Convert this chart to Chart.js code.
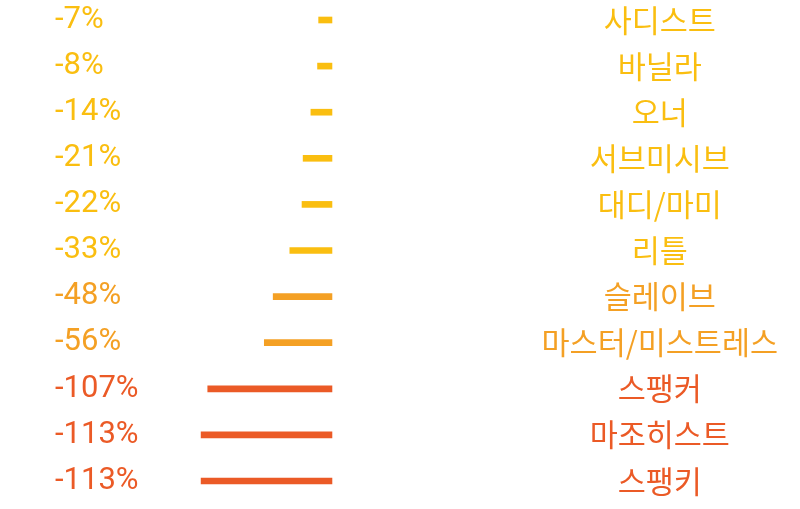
<!DOCTYPE html>
<html>
<head>
<meta charset="utf-8">
<script src="https://cdn.jsdelivr.net/npm/chart.js@4/dist/chart.umd.min.js"></script>
<style>
  html, body { margin: 0; padding: 0; background: #ffffff; }
  #chart { display: block; }
</style>
</head>
<body>
<canvas id="chart" width="800" height="509"></canvas>
<script>
/* DATA */
const categories = ['사디스트', '바닐라', '오너', '서브미시브', '대디/마미', '리틀', '슬레이브', '마스터/미스트레스', '스팽커', '마조히스트', '스팽키'];
const values = [-7, -8, -14, -21, -22, -33, -48, -56, -107, -113, -113];
const valueLabels = values.map((v) => v + '%');

/* COLORS */
const yellow = '#fabe10';
const orange = '#f4a024';
const red = '#eb5a26';
const rowColors = [yellow, yellow, yellow, yellow, yellow, yellow, orange, orange, red, red, red];

/* right axis as wide as its widest label, so centred labels end at the edge */
function fitToLabels(scale) {
  const sizes = scale._getLabelSizes ? scale._getLabelSizes() : null;
  scale.width = sizes ? sizes.widest.width : 238;
}

new Chart(document.getElementById('chart'), {
  type: 'bar',
  data: {
    labels: categories,
    datasets: [
      {
        data: values,
        base: 5,
        backgroundColor: rowColors,
        barThickness: 6,
        clip: false,
        yAxisID: 'y',
      },
    ],
  },
  options: {
    indexAxis: 'y',
    responsive: false,
    animation: false,
    devicePixelRatio: 1,
    layout: { padding: { left: 55, right: 22, top: 20, bottom: 28 } },
    plugins: {
      legend: { display: false },
      tooltip: { enabled: false },
    },
    scales: {
      x: {
        display: false,
        min: -118.5,
        max: 194,
        grid: { display: false },
      },
      y: {
        position: 'right',
        offset: false,
        grid: { display: false, drawTicks: false },
        border: { display: false },
        afterFit: fitToLabels,
        ticks: {
          autoSkip: false,
          padding: 0,
          crossAlign: 'center',
          color: (ctx) => rowColors[ctx.index],
          font: { family: '"Noto Sans CJK KR"', size: 30.5, lineHeight: 0.01 },
        },
      },
      yv: {
        type: 'category',
        axis: 'y',
        position: 'left',
        labels: valueLabels,
        offset: false,
        grid: { display: false, drawTicks: false },
        border: { display: false },
        afterFit: (scale) => { scale.width = 140; },
        ticks: {
          autoSkip: false,
          padding: 0,
          crossAlign: 'far',
          color: (ctx) => rowColors[ctx.index],
          font: { family: 'Roboto', size: 31, lineHeight: 0.01 },
        },
      },
    },
  },
});
</script>
</body>
</html>
